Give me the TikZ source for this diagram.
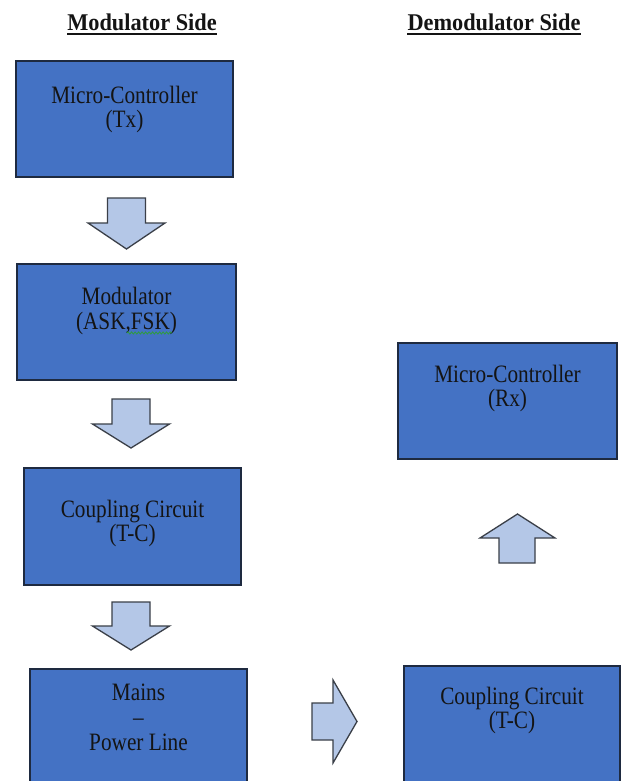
\documentclass[tikz,border=0pt]{standalone}
\usepackage{fontspec}
\setmainfont{Liberation Serif}
\newfontfamily\boxfont{Liberation Serif}[FakeStretch=0.85, Ligatures=TeX]
\newfontfamily\titlefont{Liberation Serif}[FakeStretch=0.93, Ligatures=TeX]
\usetikzlibrary{decorations.pathmorphing}
\definecolor{boxblue}{HTML}{4472C4}
\definecolor{boxedge}{HTML}{1E2A40}
\definecolor{arrfill}{HTML}{B4C7E7}
\definecolor{arredge}{HTML}{3A3F48}
\definecolor{txtcol}{HTML}{141414}
\definecolor{squig}{HTML}{2E9E3A}
\tikzset{
  blockbox/.style={draw=boxedge, line width=1.2pt, fill=boxblue, inner sep=0pt, outer sep=0pt},
  blk/.style={draw=arredge, line width=1.3pt, fill=arrfill, line join=miter},
  boxtxt/.style={anchor=base, inner sep=0pt, text=txtcol, font=\boxfont\fontsize{25}{26}\selectfont},
  ttl/.style={anchor=base, inner sep=0pt, text=txtcol, font=\titlefont\bfseries\fontsize{24}{26}\selectfont},
}
\newcommand{\downblk}[4]{%
  \draw[blk] ({#1-19},#2) -- ({#1+19},#2) -- ({#1+19},#3) -- ({#1+38.5},#3) -- (#1,#4) -- ({#1-38.5},#3) -- ({#1-19},#3) -- cycle;}
\begin{document}
\begin{tikzpicture}[x=1pt,y=-1pt]
\useasboundingbox (0,0) rectangle (622,781);
\clip (0,0) rectangle (622,781);
\fill[white] (0,0) rectangle (622,781);

% titles
\node[ttl] (tmod) at (142,31) {Modulator Side};
\node[ttl] (tdem) at (494,31) {Demodulator Side};
\draw[txtcol, line width=1.3pt] (tmod.base west) ++(0,3) -- ([yshift=-3pt]tmod.base east);
\draw[txtcol, line width=1.3pt] (tdem.base west) ++(0,3) -- ([yshift=-3pt]tdem.base east);

% boxes
\node[blockbox, minimum width=217pt, minimum height=116pt] (mctx) at (124.5,119) {};
\node[blockbox, minimum width=219pt, minimum height=116pt] (mod) at (126.5,322) {};
\node[blockbox, minimum width=217pt, minimum height=117pt] (coup) at (132.5,526.5) {};
\node[blockbox, minimum width=217pt, minimum height=130pt] (mains) at (138.5,734) {};
\node[blockbox, minimum width=219pt, minimum height=116pt] (mcrx) at (507.5,401) {};
\node[blockbox, minimum width=216pt, minimum height=130pt] (coup2) at (512,731) {};

% texts
\node[boxtxt] (mctx1) at (124.5,104) {Micro-Controller};
\node[boxtxt] (mctx2) at (124.5,128) {(Tx)};
\node[boxtxt] (mod1) at (126.5,304) {Modulator};
\node[boxtxt] (mod2) at (126.5,329) {(ASK,FSK)};
\draw[squig, line width=0.8pt, decorate, decoration={snake, segment length=3.5pt, amplitude=1.1pt}] (127,333) -- (172,333);
\node[boxtxt] (coup1) at (132.5,517) {Coupling Circuit};
\node[boxtxt] (coup2a) at (132.5,541) {(T-C)};
\node[boxtxt] (mains1) at (138.5,700) {Mains};
\node[boxtxt] (mains2) at (138.5,725) {–};
\node[boxtxt] (mains3) at (138.5,750) {Power Line};
\node[boxtxt] (mcrx1) at (507.5,382) {Micro-Controller};
\node[boxtxt] (mcrx2) at (507.5,406) {(Rx)};
\node[boxtxt] (coupr1) at (512,704) {Coupling Circuit};
\node[boxtxt] (coupr2) at (512,728) {(T-C)};

% block arrows
\downblk{126.5}{198}{223}{249}
\downblk{131}{399}{424}{448}
\downblk{131}{602}{626}{650}
% up arrow
\draw[blk] (499,563) -- (535,563) -- (535,538) -- (555,538) -- (517.5,514) -- (480,538) -- (499,538) -- cycle;
% right arrow
\draw[blk] (312,703) -- (333,703) -- (333,680) -- (357,721.5) -- (333,763) -- (333,740) -- (312,740) -- cycle;
\end{tikzpicture}
\end{document}
